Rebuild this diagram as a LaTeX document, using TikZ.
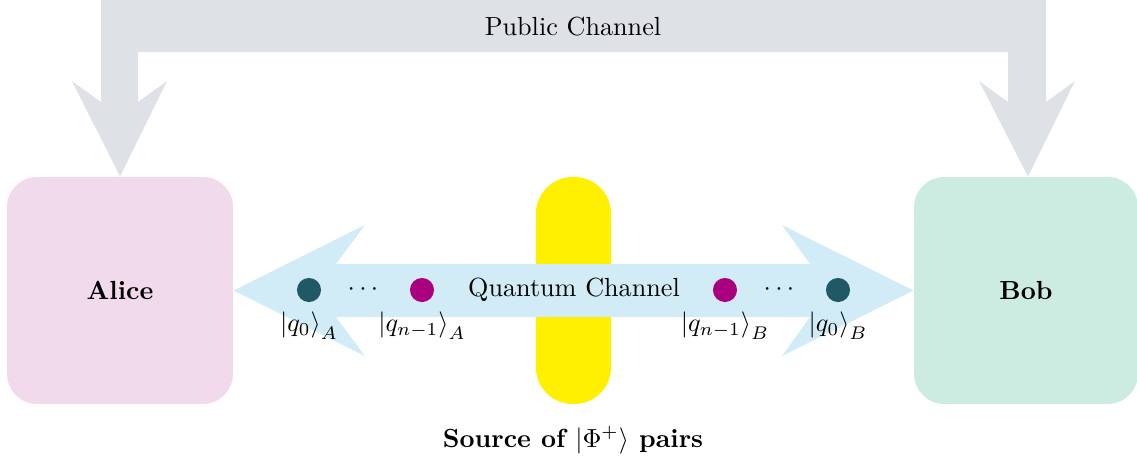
\documentclass[tikz,border=0pt]{standalone}
\usetikzlibrary{calc}
\definecolor{pubgray}{RGB}{222,226,230}
\definecolor{alicepink}{RGB}{240,218,235}
\definecolor{bobmint}{RGB}{204,236,226}
\definecolor{srcyellow}{RGB}{255,240,0}
\definecolor{qblue}{RGB}{209,236,247}
\definecolor{qteal}{RGB}{33,88,102}
\definecolor{qmag}{RGB}{170,0,128}
\begin{document}
\begin{tikzpicture}[x=0.382pt,y=-0.382pt,
  party/.style={rectangle, rounded corners=11.5pt, minimum width=86.3pt, minimum height=86.7pt, inner sep=0pt, font=\bfseries},
  source/.style={rectangle, fill=srcyellow, rounded corners=14pt, minimum width=28.7pt, minimum height=86.7pt, inner sep=0pt},
  qubit/.style={circle, minimum size=9.2pt, inner sep=0pt},
  qlabel/.style={label distance=1pt},
  chan/.style={fill=qblue},
  pub/.style={fill=pubgray}]
\useasboundingbox (0,0) rectangle (1137,461);

\node[party, fill=alicepink] (alice) at (120,290.5) {Alice};
\node[party, fill=bobmint, minimum width=85.5pt] (bob) at (1026,290.5) {Bob};
\node[source] (src) at (573.5,290.5) {};
\node[font=\bfseries] (srclabel) at (573,440) {Source of $|\Phi^+\rangle$ pairs};

% public channel
\path[pub] (alice.north) -- (72,81) -- (101,102) -- (101,-10) -- (1046,-10) -- (1046,102)
  -- (1075,81) -- ($(bob.north)+(2,0)$) -- (979,81) -- (1008,102) -- (1008,52) -- (138,52)
  -- (138,102) -- (167,81) -- cycle;
\node (publabel) at (573,27) {Public Channel};

% quantum channel
\path[chan] (alice.east) -- (365,225) -- (336,264) -- (810,264) -- (782,225) -- (bob.west)
  -- (782,356) -- (810,317) -- (336,317) -- (365,356) -- cycle;
\node (qlabelc) at (574,290) {Quantum Channel};

\node[qubit, fill=qteal, qlabel, label=below:{$\left|q_0\right\rangle_A$}] (qa0) at (309,290) {};
\node (dotsa) at (363,290) {$\cdots$};
\node[qubit, fill=qmag, qlabel, label=below:{$\left|q_{n-1}\right\rangle_A$}] (qan) at (422,290) {};
\node[qubit, fill=qmag, qlabel, label=below:{$\left|q_{n-1}\right\rangle_B$}] (qbn) at (725,290) {};
\node (dotsb) at (779,290) {$\cdots$};
\node[qubit, fill=qteal, qlabel, label=below:{$\left|q_0\right\rangle_B$}] (qb0) at (838,290) {};
\end{tikzpicture}
\end{document}
